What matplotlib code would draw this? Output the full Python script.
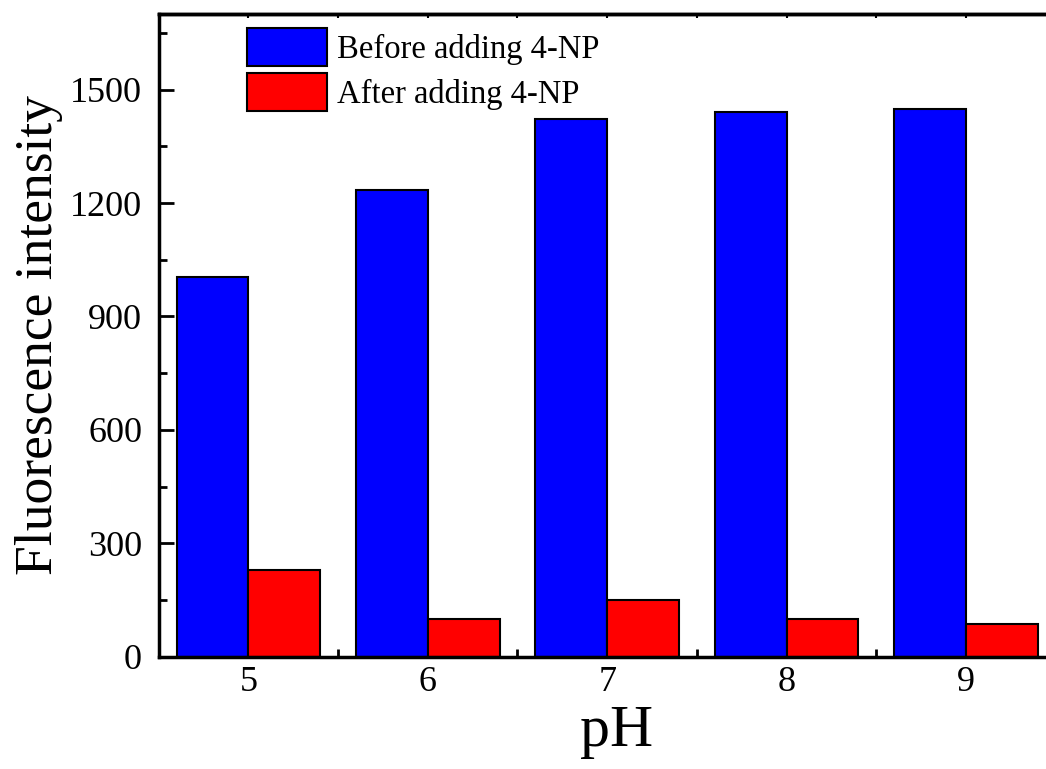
import matplotlib
matplotlib.use("Agg")
import matplotlib.pyplot as plt
import numpy as np
from matplotlib.ticker import MultipleLocator

ph = [5, 6, 7, 8, 9]
before = [1005, 1235, 1422, 1440, 1450]
after = [229, 99, 150, 99, 87]
series_labels = ["Before adding 4-NP", "After adding 4-NP"]

plt.rcParams['font.family'] = ['Liberation Serif', 'DejaVu Serif']

fig = plt.figure(figsize=(10.46, 7.69), dpi=100)
ax = fig.add_axes([158.7/1046, (769-656.7)/769, 896.9/1046, 642.7/769])

x = np.array(ph, dtype=float)
w = 0.4
ax.bar(x - w/2, before, width=w, color='#0000FF', edgecolor='black', linewidth=1.5, label=series_labels[0])
ax.bar(x + w/2, after, width=w, color='#FF0000', edgecolor='black', linewidth=1.5, label=series_labels[1])

ax.set_xlim(4.5, 9.5)
ax.set_ylim(0, 1700)
ax.set_xticks(ph)
ax.set_xticklabels([str(p) for p in ph])
ax.xaxis.set_minor_locator(MultipleLocator(0.5))
ax.set_yticks([0, 300, 600, 900, 1200, 1500])
ax.yaxis.set_minor_locator(MultipleLocator(150))
ax.set_axisbelow(True)

for s in ax.spines.values():
    s.set_linewidth(2.5)

ax.tick_params(axis='y', which='major', direction='in', length=11, width=2, labelsize=26, pad=12, right=False)
ax.tick_params(axis='y', which='minor', direction='in', length=6, width=2, right=False)
ax.tick_params(axis='x', which='major', direction='in', length=10, width=2, labelsize=26, pad=7, top=False)
ax.tick_params(axis='x', which='minor', direction='in', length=6, width=2, top=False)

sec = ax.secondary_xaxis('top')
sec.set_xticks(ph)
sec.xaxis.set_minor_locator(MultipleLocator(0.5))
sec.tick_params(axis='x', which='both', direction='in', length=3, width=1.5, labeltop=False)
sec.spines['top'].set_linewidth(2.5)

ax.set_xlabel('pH', fontsize=43)
ax.xaxis.set_label_coords(0.511, -0.075)
ax.set_ylabel('Fluorescence intensity', fontsize=38.5, labelpad=5)

ax.legend(loc='upper left', bbox_to_anchor=(0.0985, 0.978), frameon=False,
          fontsize=23.5, handlelength=2.45, handleheight=1.414, labelspacing=0.21,
          handletextpad=0.3, borderpad=0, borderaxespad=0)

fig.savefig('out.png', dpi=100)
